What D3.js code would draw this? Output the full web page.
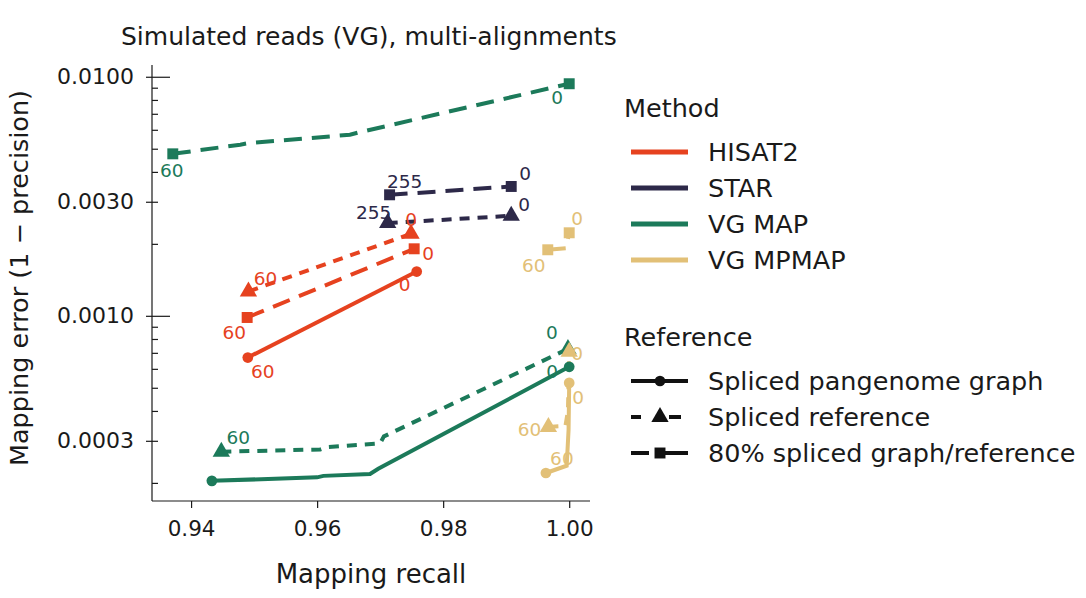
<!DOCTYPE html>
<html>
<head>
<meta charset="utf-8">
<script src="https://cdn.jsdelivr.net/npm/d3@7"></script>
<style>
  body { margin: 0; background: #fff; }
  svg text { font-family: "DejaVu Sans", sans-serif; fill: #1a1a1a; }
</style>
</head>
<body>
<div id="chart"></div>
<script>
// Data: [recall, error] per series, first point = MAPQ 60/255, last = 0
var methods = ["HISAT2", "STAR", "VG MAP", "VG MPMAP"];
var references = ["Spliced pangenome graph", "Spliced reference", "80% spliced graph/reference"];

var hisat2Graph = [[0.9490, 0.000669], [0.9758, 0.001532]];
var hisat2Ref = [[0.9491, 0.001264], [0.9749, 0.002203]];
var hisat2Mix = [[0.9489, 0.000984], [0.9754, 0.001907]];
var starRef = [[0.9712, 0.002443], [0.9908, 0.002621]];
var starMix = [[0.9715, 0.003208], [0.9908, 0.003476]];
var vgmapGraph = [[0.9433, 0.000204], [0.9600, 0.000211], [0.9610, 0.000214], [0.9684, 0.000218], [0.9697, 0.000229], [1.0000, 0.000612]];
var vgmapRef = [[0.9448, 0.000270], [0.9605, 0.000276], [0.9615, 0.000282], [0.9700, 0.000293], [0.9706, 0.000313], [0.9998, 0.000727]];
var vgmapMix = [[0.9371, 0.00476], [0.9478, 0.00520], [0.9490, 0.00527], [0.9652, 0.00572], [0.9665, 0.00584], [1.0000, 0.00935]];
var mpmapGraph = [[0.9963, 0.000220], [0.9996, 0.000236], [0.9999, 0.000333], [1.0000, 0.000524]];
var mpmapRef = [[0.9967, 0.000343], [0.9994, 0.000346], [0.9998, 0.000400], [1.0000, 0.000707]];
var mpmapMix = [[0.9966, 0.001889], [0.9995, 0.001917], [1.0000, 0.002225]];

var xTicks = [0.94, 0.96, 0.98, 1.00];
var yTicks = [0.0003, 0.001, 0.003, 0.01];

// series list: data, method index, reference index, start label, end label
var series = [
  { pts: vgmapMix, m: 2, r: 2, lo: "60", hi: "0" },
  { pts: vgmapGraph, m: 2, r: 0, lo: null, hi: "0" },
  { pts: vgmapRef, m: 2, r: 1, lo: "60", hi: "0" },
  { pts: starMix, m: 1, r: 2, lo: "255", hi: "0" },
  { pts: starRef, m: 1, r: 1, lo: "255", hi: "0" },
  { pts: hisat2Graph, m: 0, r: 0, lo: "60", hi: "0" },
  { pts: hisat2Ref, m: 0, r: 1, lo: "60", hi: "0" },
  { pts: hisat2Mix, m: 0, r: 2, lo: "60", hi: "0" },
  { pts: mpmapMix, m: 3, r: 2, lo: "60", hi: "0" },
  { pts: mpmapGraph, m: 3, r: 0, lo: "60", hi: "0" },
  { pts: mpmapRef, m: 3, r: 1, lo: "60", hi: "0" }
];

// label nudges (pixels) for start / end labels, same order as series
var nudges = [
  [[-1, 17], [-12, 14]],
  [[0, 0], [-17, 5]],
  [[17, -14], [-16, -16]],
  [[15, -13], [14, -13]],
  [[-14, -11], [13, -11]],
  [[15, 14], [-12, 13]],
  [[17, -13], [0, -14]],
  [[-13, 15], [14, 5]],
  [[-14, 16], [8, -14]],
  [[16, -15], [9, 15]],
  [[-19, 3], [8, 2]]
];

var colors = ["#e6421f", "#2d2949", "#1c7a5a", "#e2c077"];
var dashes = [null, "10,8", "18,10"];
var shapes = [d3.symbolCircle, d3.symbolTriangle, d3.symbolSquare];
var symSize = [90, 130, 120];

var width = 1086, height = 598;
var plotL = 152, plotR = 590, plotT = 65, plotB = 501;
var bigFont = "25.5px";

var svg = d3.select("#chart").append("svg")
  .attr("width", width).attr("height", height);

var x = d3.scaleLinear().domain([0.9338, 1.0033]).range([plotL, plotR]);
var y = d3.scaleLog().domain([0.000168, 0.0112]).range([plotB, plotT]);

// title
svg.append("text").attr("x", 121).attr("y", 45)
  .attr("font-size", "25px").text("Simulated reads (VG), multi-alignments");

// x axis
var xAxis = svg.append("g").attr("transform", "translate(0," + plotB + ")")
  .call(d3.axisBottom(x).tickValues(xTicks).tickSize(7).tickPadding(13)
    .tickFormat(d3.format(".2f")));
xAxis.select(".domain").attr("d", "M" + plotL + ",0H" + plotR);
xAxis.selectAll("text").attr("font-size", "21.5px").attr("font-family", "DejaVu Sans, sans-serif").attr("fill", "#1a1a1a");

// y axis: labelled ticks outward
var yAxis = svg.append("g").attr("transform", "translate(" + plotL + ",0)")
  .call(d3.axisLeft(y).tickValues(yTicks).tickSize(6).tickPadding(12)
    .tickFormat(d3.format(".4f")));
yAxis.select(".domain").attr("d", "M0," + plotT + "V" + plotB);
yAxis.selectAll("text").attr("font-size", "22px").attr("font-family", "DejaVu Sans, sans-serif").attr("fill", "#1a1a1a");

// minor ticks inward
var minors = [];
[0.0001, 0.001].forEach(function(dec) {
  for (var k = 2; k <= 9; k++) minors.push(k * dec);
});
minors = minors.filter(function(v) { return v >= y.domain()[0] && v <= y.domain()[1]; });
svg.append("g").attr("transform", "translate(" + plotL + ",0)")
  .call(d3.axisRight(y).tickValues(minors).tickSize(6).tickFormat(""))
  .select(".domain").remove();
svg.append("g").attr("transform", "translate(" + plotL + ",0)")
  .call(d3.axisRight(y).tickValues([0.001, 0.01]).tickSize(18).tickFormat(""))
  .select(".domain").remove();

svg.selectAll(".tick line, .domain").attr("stroke", "#1a1a1a").attr("stroke-width", 1.2);

// axis labels
svg.append("text").attr("x", 371).attr("y", 583).attr("text-anchor", "middle")
  .attr("font-size", "26px").text("Mapping recall");
svg.append("text").attr("transform", "translate(28,278) rotate(-90)")
  .attr("text-anchor", "middle").attr("font-size", bigFont)
  .text("Mapping error (1 \u2212 precision)");

// lines
var line = d3.line().x(function(d) { return x(d[0]); }).y(function(d) { return y(d[1]); });

var plot = svg.append("g");
series.forEach(function(s) {
  plot.append("path").attr("d", line(s.pts))
    .attr("fill", "none").attr("stroke", colors[s.m]).attr("stroke-width", 4)
    .attr("stroke-dasharray", dashes[s.r]);
});

// end markers
series.forEach(function(s) {
  [s.pts[0], s.pts[s.pts.length - 1]].forEach(function(p) {
    plot.append("path")
      .attr("d", d3.symbol().type(shapes[s.r]).size(symSize[s.r])())
      .attr("transform", "translate(" + x(p[0]) + "," + y(p[1]) + ")")
      .attr("fill", colors[s.m]);
  });
});

// MAPQ labels
series.forEach(function(s, i) {
  var ends = [s.pts[0], s.pts[s.pts.length - 1]];
  [s.lo, s.hi].forEach(function(lab, j) {
    if (!lab) return;
    plot.append("text")
      .attr("x", x(ends[j][0]) + nudges[i][j][0])
      .attr("y", y(ends[j][1]) + nudges[i][j][1])
      .attr("text-anchor", "middle").attr("dominant-baseline", "central")
      .attr("font-size", "18.5px")
      .style("fill", colors[s.m])
      .text(lab);
  });
});

// legend: method
var lg = svg.append("g");
lg.append("text").attr("x", 624).attr("y", 117).attr("font-size", bigFont).text("Method");
methods.forEach(function(m, i) {
  var yy = 152 + i * 36;
  lg.append("line").attr("x1", 631).attr("x2", 688).attr("y1", yy).attr("y2", yy)
    .attr("stroke", colors[i]).attr("stroke-width", 5);
  lg.append("text").attr("x", 708).attr("y", yy).attr("dominant-baseline", "central")
    .attr("font-size", bigFont).text(m);
});

// legend: reference
lg.append("text").attr("x", 624).attr("y", 346).attr("font-size", bigFont).text("Reference");
var refDash = [null, "10,28,12,40", "18,6,40"];
references.forEach(function(r, i) {
  var yy = 381 + i * 36;
  lg.append("line").attr("x1", 631).attr("x2", 688).attr("y1", yy).attr("y2", yy)
    .attr("stroke", "#111").attr("stroke-width", 4)
    .attr("stroke-dasharray", refDash[i]);
  lg.append("path").attr("d", d3.symbol().type(shapes[i]).size(symSize[i])())
    .attr("transform", "translate(660," + yy + ")").attr("fill", "#111");
  lg.append("text").attr("x", 708).attr("y", yy).attr("dominant-baseline", "central")
    .attr("font-size", bigFont).text(r);
});
</script>
</body>
</html>
